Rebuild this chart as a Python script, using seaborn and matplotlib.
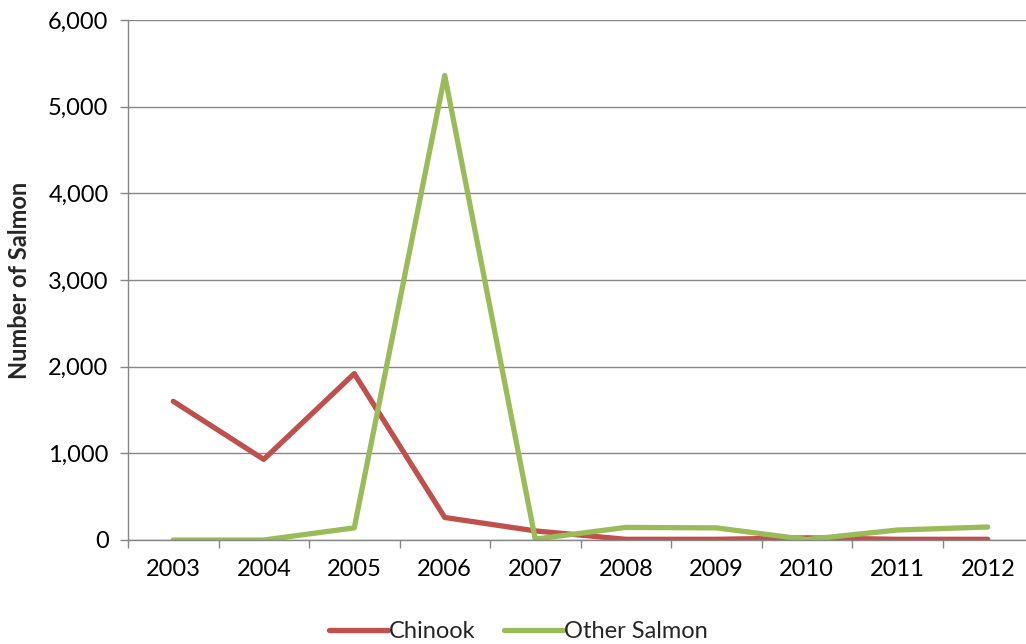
import matplotlib
matplotlib.use("Agg")
import matplotlib.pyplot as plt
import seaborn as sns
import pandas as pd
import numpy as np
from matplotlib.ticker import FuncFormatter, FixedLocator

years = ["2003", "2004", "2005", "2006", "2007", "2008", "2009", "2010", "2011", "2012"]
chinook = [1600, 930, 1920, 260, 105, 8, 8, 25, 8, 8]
other_salmon = [0, 0, 140, 5360, 10, 145, 140, 5, 115, 150]
series_names = ["Chinook", "Other Salmon"]
colors = ["#C0504D", "#9BBB59"]

sns.set_theme(style="white")
plt.rcParams['font.family'] = ['Lato', 'DejaVu Sans']

df = pd.DataFrame({"idx": np.arange(len(years)), "Chinook": chinook, "Other Salmon": other_salmon})
long = df.melt(id_vars="idx", var_name="series", value_name="value")

fs = 17
fig = plt.figure(figsize=(10.26, 6.44), dpi=100)
ax = fig.add_axes([128/1026, 1-540/644, 905/1026, 520/644])

sns.lineplot(data=long, x="idx", y="value", hue="series", hue_order=series_names,
             palette=colors, linewidth=3.8, ax=ax, legend=False)

grid_c = "#868686"
ax.set_xlim(-0.5, len(years) - 0.5)
ax.set_ylim(0, 6000)
ax.set_yticks(np.arange(0, 6001, 1000))
ax.yaxis.set_major_formatter(FuncFormatter(lambda v, p: f"{int(v):,}"))
ax.grid(axis="y", color=grid_c, linewidth=1)
ax.grid(axis="x", visible=False)
ax.set_axisbelow(True)

ax.set_xticks(np.arange(len(years)))
ax.set_xticklabels(years)
ax.xaxis.set_minor_locator(FixedLocator(np.arange(-0.5, len(years), 1.0)))
ax.tick_params(axis="x", which="major", length=0, pad=14, labelsize=fs, colors="black")
ax.tick_params(axis="x", which="minor", length=6, width=1, color=grid_c, direction="out", bottom=True)
ax.tick_params(axis="y", which="major", length=6, width=1, color=grid_c, direction="out", left=True,
               pad=8, labelsize=fs, labelcolor="black")

for s in ["top", "right"]:
    ax.spines[s].set_visible(False)
for s in ["left", "bottom"]:
    ax.spines[s].set_color(grid_c)
    ax.spines[s].set_linewidth(1)

ax.set_xlabel("")
ax.set_ylabel("Number of Salmon", fontsize=fs, fontweight="bold", labelpad=12)

handles = [plt.Line2D([0], [0], color=c, linewidth=3.8) for c in colors]
fig.legend(handles, series_names, loc="lower center", bbox_to_anchor=(0.505, -0.03), ncol=2,
           frameon=False, fontsize=fs, handlelength=2.5, handletextpad=0.05, columnspacing=1.2)

fig.savefig("out.png", dpi=100)
